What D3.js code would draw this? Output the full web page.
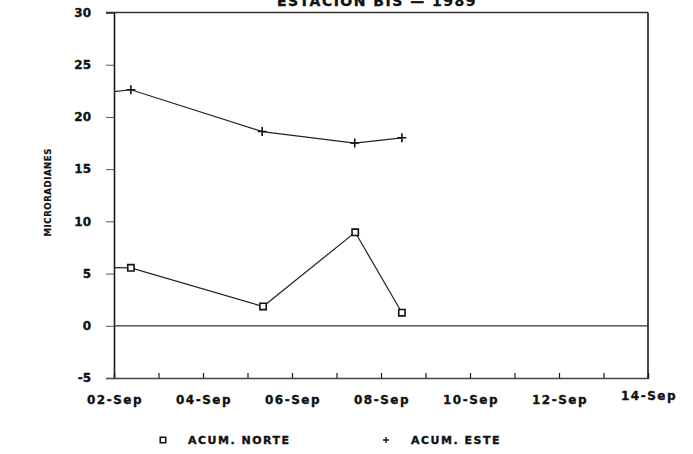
<!DOCTYPE html>
<html>
<head>
<meta charset="utf-8">
<script src="https://cdn.jsdelivr.net/npm/d3@7"></script>
<style>
  html, body { margin: 0; padding: 0; background: #fff; }
  svg { display: block; }
  text { font-family: "DejaVu Sans", sans-serif; font-weight: bold; fill: #111; stroke: #111; stroke-width: 0.35px; }
</style>
</head>
<body>
<svg id="chart" width="693" height="454"></svg>
<script>
// Day of September 1989 for each reading (fractional days)
const norteDays = [1.7, 2.38, 5.35, 7.42, 8.47];
const norteValues = [5.6, 5.55, 1.85, 8.95, 1.25];
const esteDays = [1.7, 2.38, 5.33, 7.41, 8.47];
const esteValues = [22.3, 22.6, 18.6, 17.5, 18.0];

const xTickDays = [2, 3, 4, 5, 6, 7, 8, 9, 10, 11, 12, 13, 14];
const xLabelDays = [2, 4, 6, 8, 10, 12, 14];
const yTickValues = [-5, 0, 5, 10, 15, 20, 25, 30];

const title = "ESTACION BIS  —  1989";
const yTitle = "MICRORADIANES";
const legendNames = ["ACUM. NORTE", "ACUM. ESTE"];

const svg = d3.select("#chart");
const plotLeft = 114, plotRight = 648, plotTop = 12.5, plotBottom = 378;

const x = d3.scaleLinear().domain([2, 14]).range([plotLeft, plotRight]);
const y = d3.scaleLinear().domain([-5, 30]).range([plotBottom, plotTop]);

const ink = "#1a1a1a";

// Title (runs off the top edge)
svg.append("text")
  .attr("x", 377).attr("y", 6)
  .attr("text-anchor", "middle")
  .style("font-size", "14px")
  .style("letter-spacing", "1.5px")
  .text(title);

// Y axis with outward ticks
const yAxis = svg.append("g")
  .attr("transform", `translate(${plotLeft},0)`)
  .call(d3.axisLeft(y).tickValues(yTickValues).tickSize(8).tickPadding(15)
    .tickFormat(d => d < 0 ? "-" + Math.abs(d) : String(d)));
yAxis.select(".domain").attr("stroke", ink).attr("stroke-width", 1.6);
yAxis.selectAll(".tick line").attr("stroke", "#555").attr("stroke-width", 1);
yAxis.selectAll(".tick text")
  .style("font-size", "12px")
  .style("font-family", "DejaVu Sans, sans-serif")
  .style("font-weight", "bold")
  .attr("fill", ink);

// X axis along the bottom, ticks pointing into the plot
const xAxis = svg.append("g")
  .attr("transform", `translate(0,${plotBottom})`)
  .call(d3.axisTop(x).tickValues(xTickDays).tickSize(5).tickFormat(""));
xAxis.select(".domain").attr("stroke", "#444").attr("stroke-width", 1.3);
xAxis.selectAll(".tick line").attr("stroke", ink).attr("stroke-width", 1.2);

svg.append("g").selectAll("text")
  .data(xLabelDays)
  .join("text")
  .attr("x", d => x(d) + 1)
  .attr("y", d => d === 14 ? 400 : 404)
  .attr("text-anchor", "middle")
  .style("font-size", "12px")
  .style("letter-spacing", "1.5px")
  .text(d => d3.format("02")(d) + "-Sep");

// Frame: top and right edges
svg.append("line")
  .attr("x1", plotLeft - 8).attr("x2", plotRight)
  .attr("y1", y(30)).attr("y2", y(30))
  .attr("stroke", "#333").attr("stroke-width", 1.4);
svg.append("line")
  .attr("x1", plotRight).attr("x2", plotRight)
  .attr("y1", y(30)).attr("y2", plotBottom)
  .attr("stroke", ink).attr("stroke-width", 1.6);

// Zero reference line
svg.append("line")
  .attr("x1", plotLeft).attr("x2", plotRight)
  .attr("y1", y(0)).attr("y2", y(0))
  .attr("stroke", "#333").attr("stroke-width", 1.3);

// Y axis title
svg.append("text")
  .attr("transform", `translate(51,${(plotTop + plotBottom) / 2 - 3}) rotate(-90)`)
  .attr("text-anchor", "middle")
  .style("font-size", "8.5px")
  .style("letter-spacing", "0.6px")
  .style("stroke-width", "0.2px")
  .text(yTitle);

// Plot area clip
svg.append("clipPath").attr("id", "plotClip")
  .append("rect")
  .attr("x", plotLeft).attr("y", plotTop)
  .attr("width", plotRight - plotLeft).attr("height", plotBottom - plotTop);

const plot = svg.append("g").attr("clip-path", "url(#plotClip)");
const line = d3.line().x(d => x(d[0])).y(d => y(d[1]));

const norte = d3.zip(norteDays, norteValues);
const este = d3.zip(esteDays, esteValues);

plot.append("path").datum(este)
  .attr("d", line).attr("fill", "none")
  .attr("stroke", "#222").attr("stroke-width", 1.2);
plot.append("path").datum(norte)
  .attr("d", line).attr("fill", "none")
  .attr("stroke", "#222").attr("stroke-width", 1.2);

const square = d3.symbol().type(d3.symbolSquare).size(40);
const plus = (cx, cy, r) => `M${cx - r},${cy}H${cx + r}M${cx},${cy - r}V${cy + r}`;

plot.selectAll(".sq").data(norte).join("path")
  .attr("class", "sq")
  .attr("transform", d => `translate(${x(d[0])},${y(d[1])})`)
  .attr("d", square)
  .attr("fill", "#fff").attr("stroke", "#111").attr("stroke-width", 1.6);

plot.selectAll(".pl").data(este).join("path")
  .attr("class", "pl")
  .attr("d", d => plus(x(d[0]), y(d[1]), 4.5))
  .attr("fill", "none").attr("stroke", "#111").attr("stroke-width", 1.6);

// Legend
const legendY = 440;
svg.append("path")
  .attr("transform", `translate(163,${legendY})`)
  .attr("d", d3.symbol().type(d3.symbolSquare).size(30))
  .attr("fill", "#fff").attr("stroke", "#111").attr("stroke-width", 1.6);
svg.append("text")
  .attr("x", 188).attr("y", legendY + 4)
  .style("font-size", "11px").style("letter-spacing", "1.5px")
  .text(legendNames[0]);
svg.append("path")
  .attr("d", plus(386, legendY, 3))
  .attr("stroke", "#111").attr("stroke-width", 1.4);
svg.append("text")
  .attr("x", 411).attr("y", legendY + 4)
  .style("font-size", "11px").style("letter-spacing", "1.5px")
  .text(legendNames[1]);
</script>
</body>
</html>
